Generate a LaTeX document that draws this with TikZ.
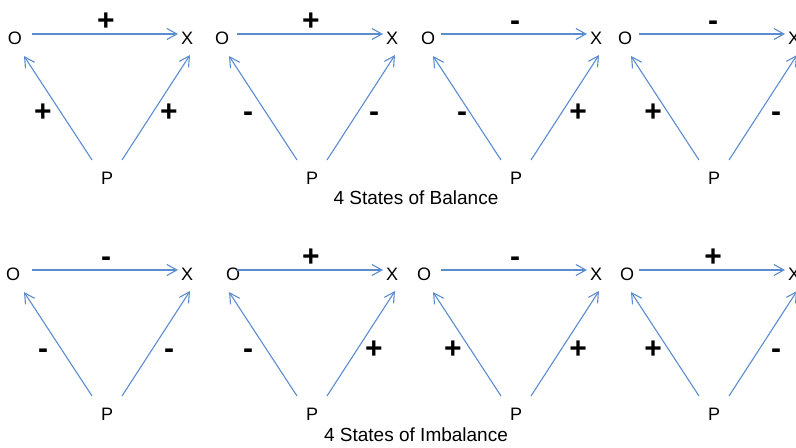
\documentclass[tikz,border=0pt]{standalone}
\usepackage{fontspec}
\setmainfont{Liberation Sans}
\usepackage{tikz}
\usetikzlibrary{arrows.meta}
\definecolor{relblue}{HTML}{5B8CCF}

\begin{document}
\begin{tikzpicture}[
  x=0.5pt, y=-0.5pt,
  vertex/.style={inner sep=0pt, font=\fontsize{9}{11}\selectfont},
  sign/.style={inner sep=0pt, anchor=base, font=\fontsize{15}{18}\selectfont\bfseries},
  caption/.style={inner sep=0pt, anchor=base, font=\fontsize{9.5}{11}\selectfont},
  arr/.style={-{Straight Barb[length=5pt, width=5.5pt]}, line width=0.55pt, color=relblue},
]
\useasboundingbox (0,0) rectangle (796,448);

% One triangle per state: origin, sign O-X, sign P-O, sign P-X, x of left sign, x of O
\foreach \px/\py/\st/\sl/\sr/\lx/\ox [count=\n] in {
  0/0/+/+/+/43/15, 205/0/+/-/-/43/17, 409/0/-/-/+/53/19, 607/0/-/+/-/46/18,
  0/236/-/-/-/43/13, 205/236/+/-/+/43/28, 409/236/-/+/+/44/15, 607/236/+/+/-/46/20}
{
  \node[vertex] (o\n) at (\px+\ox, \py+38) {O};
  \node[vertex] (x\n) at (\px+187, \py+38) {X};
  \node[vertex] (p\n) at (\px+107, \py+178) {P};

  \draw[arr] ([shift={(32-\ox,-4)}]o\n.center) -- ([shift={(-9,-4)}]x\n.center);
  \draw[arr] ([shift={(-15,-18)}]p\n.center) -- ([shift={(24-\ox,18)}]o\n.center);
  \draw[arr] ([shift={(15,-18)}]p\n.center) -- ([shift={(3,17)}]x\n.center);

  \node[sign] (st\n) at (\px+106, \py+31) {\st};
  \node[sign] (sl\n) at (\px+\lx, \py+122) {\sl};
  \node[sign] (sr\n) at (\px+169, \py+122) {\sr};
}

% Captions
\node[caption] (balance) at (416,205) {4 States of Balance};
\node[caption] (imbalance) at (416,441) {4 States of Imbalance};
\end{tikzpicture}
\end{document}
